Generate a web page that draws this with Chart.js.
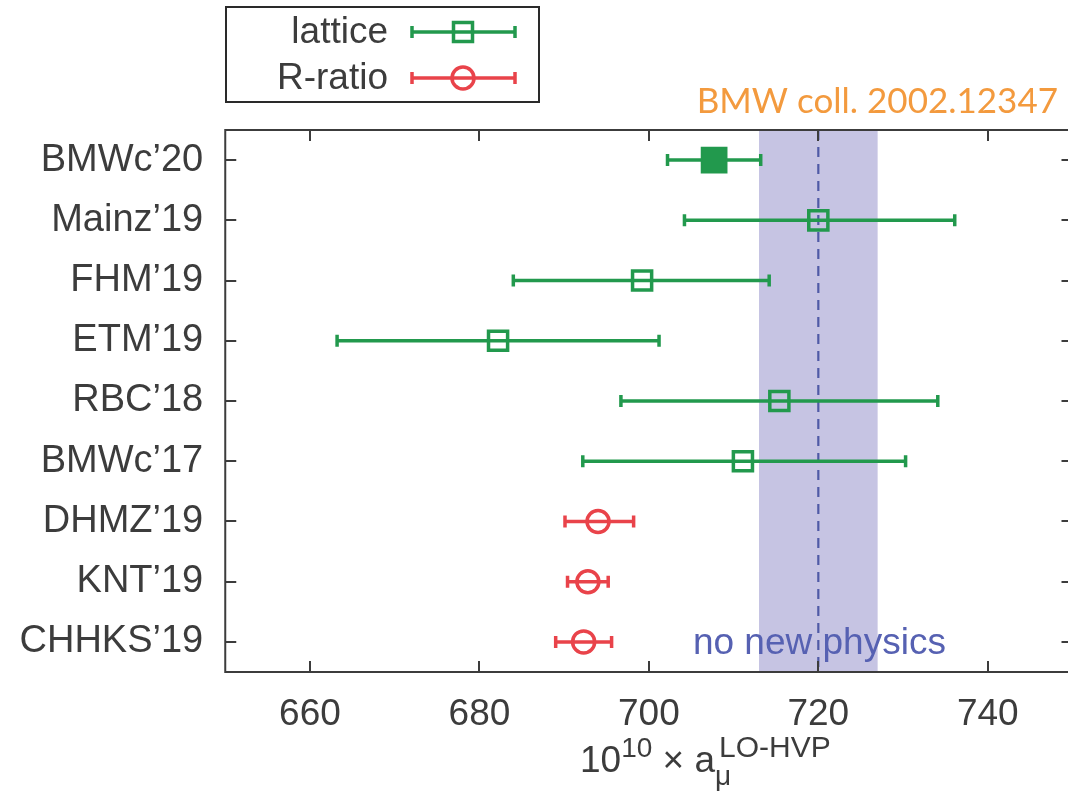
<!DOCTYPE html>
<html>
<head>
<meta charset="utf-8">
<title>LO-HVP comparison</title>
<script src="https://cdn.jsdelivr.net/npm/chart.js@4.4.1/dist/chart.umd.min.js"></script>
<style>
  html, body { margin: 0; padding: 0; background: #fff; overflow: hidden; }
  #wrap { width: 1092px; height: 799px; }
</style>
</head>
<body>
<div id="wrap"><canvas id="hvp" width="1092" height="799"></canvas></div>
<script>
// --- data ---
const labels  = ["BMWc’20", "Mainz’19", "FHM’19", "ETM’19", "RBC’18", "BMWc’17", "DHMZ’19", "KNT’19", "CHHKS’19"];
const kinds   = ["bmw", "lattice", "lattice", "lattice", "lattice", "lattice", "rratio", "rratio", "rratio"];
const central = [707.7, 720.0, 699.2, 682.2, 715.4, 711.1, 694.0, 692.8, 692.3];
const lower   = [702.2, 704.2, 684.0, 663.2, 696.7, 692.2, 690.1, 690.4, 689.0];
const upper   = [713.2, 736.1, 714.2, 701.2, 734.1, 730.3, 698.2, 695.2, 695.6];
const xTicks  = [660, 680, 700, 720, 740];
const band    = [713.0, 727.0];   // "no new physics"
const bandMid = 720.0;

const GREEN = '#22994d', RED = '#e9434a', AXIS = '#3c3c3c';
const SANS = '"Liberation Sans", Arial, Helvetica, sans-serif';

function pts(kind) {
    return central.map((v, i) => ({ x: v, y: labels[i], k: kinds[i] })).filter(p => p.k === kind);
}

// --- band, error bars, frame, legend, annotations ---
const decorations = {
    id: 'decorations',
    beforeDatasetsDraw(chart) {
        const { ctx, chartArea: a, scales: { x, y } } = chart;
        ctx.save();
        // band
        const b0 = x.getPixelForValue(band[0]), b1 = x.getPixelForValue(band[1]);
        ctx.fillStyle = '#c6c4e3';
        ctx.fillRect(b0, a.top, b1 - b0, a.bottom - a.top);

        // label inside band
        ctx.font = '37px ' + SANS;
        ctx.fillStyle = '#5661b2';
        ctx.textAlign = 'left';
        ctx.textBaseline = 'alphabetic';
        ctx.fillText('no new physics', x.getPixelForValue(705.2), y.getPixelForValue(8) + 12);

        // dashed centre line
        const xm = x.getPixelForValue(bandMid);
        ctx.strokeStyle = '#4f5aa6';
        ctx.lineWidth = 2.2;
        ctx.setLineDash([10, 7]);
        ctx.beginPath(); ctx.moveTo(xm, a.top); ctx.lineTo(xm, a.bottom); ctx.stroke();
        ctx.setLineDash([]);

        // error bars
        ctx.lineWidth = 3.5;
        labels.forEach((lab, i) => {
            const yy = y.getPixelForValue(i);
            const x0 = x.getPixelForValue(lower[i]), x1 = x.getPixelForValue(upper[i]);
            ctx.strokeStyle = kinds[i] === 'rratio' ? RED : GREEN;
            ctx.beginPath();
            ctx.moveTo(x0, yy); ctx.lineTo(x1, yy);
            ctx.moveTo(x0, yy - 6); ctx.lineTo(x0, yy + 6);
            ctx.moveTo(x1, yy - 6); ctx.lineTo(x1, yy + 6);
            ctx.stroke();
        });
        ctx.restore();
    },
    afterDraw(chart) {
        const { ctx, chartArea: a, scales: { x, y } } = chart;
        ctx.save();
        // frame
        ctx.strokeStyle = AXIS;
        ctx.lineWidth = 2;
        ctx.strokeRect(a.left, a.top, a.right - a.left, a.bottom - a.top);
        ctx.beginPath();
        xTicks.forEach(v => {
            const px = Math.round(x.getPixelForValue(v));
            ctx.moveTo(px, a.bottom); ctx.lineTo(px, a.bottom - 11);
            ctx.moveTo(px, a.top); ctx.lineTo(px, a.top + 11);
        });
        labels.forEach((l, i) => {
            const py = Math.round(y.getPixelForValue(i));
            ctx.moveTo(a.left, py); ctx.lineTo(a.left + 11, py);
            ctx.moveTo(a.right, py); ctx.lineTo(a.right - 11, py);
        });
        ctx.stroke();

        // reference tag
        ctx.font = '35px Lato, "Open Sans", sans-serif';
        ctx.fillStyle = '#f39a3e';
        ctx.textAlign = 'right';
        ctx.textBaseline = 'alphabetic';
        ctx.fillText('BMW coll. 2002.12347', 1058, 113);

        // axis title: 10^10 x a_mu^LO-HVP
        ctx.fillStyle = AXIS;
        ctx.textAlign = 'left';
        let cx = 580;
        const base = 772;
        const put = (txt, size, dy) => {
            ctx.font = size + 'px ' + SANS;
            ctx.fillText(txt, cx, base + dy);
            cx += ctx.measureText(txt).width;
        };
        put('10', 37, 0);
        put('10', 28, -15);
        put(' × a', 37, 0);
        const subX = cx;
        put('μ', 28, 13);
        cx = subX + 4;
        put('LO-HVP', 30, -15);

        // legend
        ctx.strokeStyle = '#2a2a2a';
        ctx.lineWidth = 2;
        ctx.strokeRect(226, 7, 313, 95);
        ctx.font = '37px ' + SANS;
        ctx.textAlign = 'right';
        ctx.textBaseline = 'middle';
        const rows = [['lattice', GREEN, 'rect', 32], ['R-ratio', RED, 'circle', 78]];
        rows.forEach(([name, col, shape, yy]) => {
            ctx.fillStyle = AXIS;
            ctx.fillText(name, 388, yy + 1);
            ctx.strokeStyle = col;
            ctx.lineWidth = 3.5;
            ctx.beginPath();
            ctx.moveTo(412, yy); ctx.lineTo(515, yy);
            ctx.moveTo(412, yy - 6); ctx.lineTo(412, yy + 6);
            ctx.moveTo(515, yy - 6); ctx.lineTo(515, yy + 6);
            ctx.stroke();
            ctx.beginPath();
            if (shape === 'rect') ctx.rect(463 - 9.5, yy - 9.5, 19, 19);
            else ctx.arc(463, yy, 11, 0, Math.PI * 2);
            ctx.stroke();
        });
        ctx.restore();
    }
};

new Chart(document.getElementById('hvp'), {
    type: 'scatter',
    data: {
        datasets: [
            { label: 'lattice', data: pts('lattice'), pointStyle: 'rect', pointRadius: 13.5,
              borderColor: GREEN, backgroundColor: 'rgba(0,0,0,0)', borderWidth: 3.5 },
            { label: 'BMWc', data: pts('bmw'), pointStyle: 'rect', pointRadius: 17.5,
              borderColor: GREEN, backgroundColor: GREEN, borderWidth: 2 },
            { label: 'R-ratio', data: pts('rratio'), pointStyle: 'circle', pointRadius: 11,
              borderColor: RED, backgroundColor: 'rgba(0,0,0,0)', borderWidth: 3.5 }
        ]
    },
    options: {
        responsive: false,
        animation: false,
        layout: { padding: { top: 130, right: 7, left: 0, bottom: 0 } },
        plugins: { legend: { display: false }, tooltip: { enabled: false } },
        scales: {
            x: {
                type: 'linear', min: 650, max: 750,
                afterBuildTicks: s => { s.ticks = xTicks.map(v => ({ value: v })); },
                afterFit: s => { s.height = 127; },
                grid: { display: false, drawTicks: false },
                border: { display: false },
                ticks: { color: AXIS, padding: 21, font: { family: SANS, size: 37 } }
            },
            y: {
                type: 'category', labels: labels, offset: true,
                afterFit: s => { s.width = 225.25; },
                grid: { display: false, drawTicks: false },
                border: { display: false },
                ticks: { color: AXIS, padding: 22, font: { family: SANS, size: 38 } }
            }
        }
    },
    plugins: [decorations]
});
</script>
</body>
</html>
